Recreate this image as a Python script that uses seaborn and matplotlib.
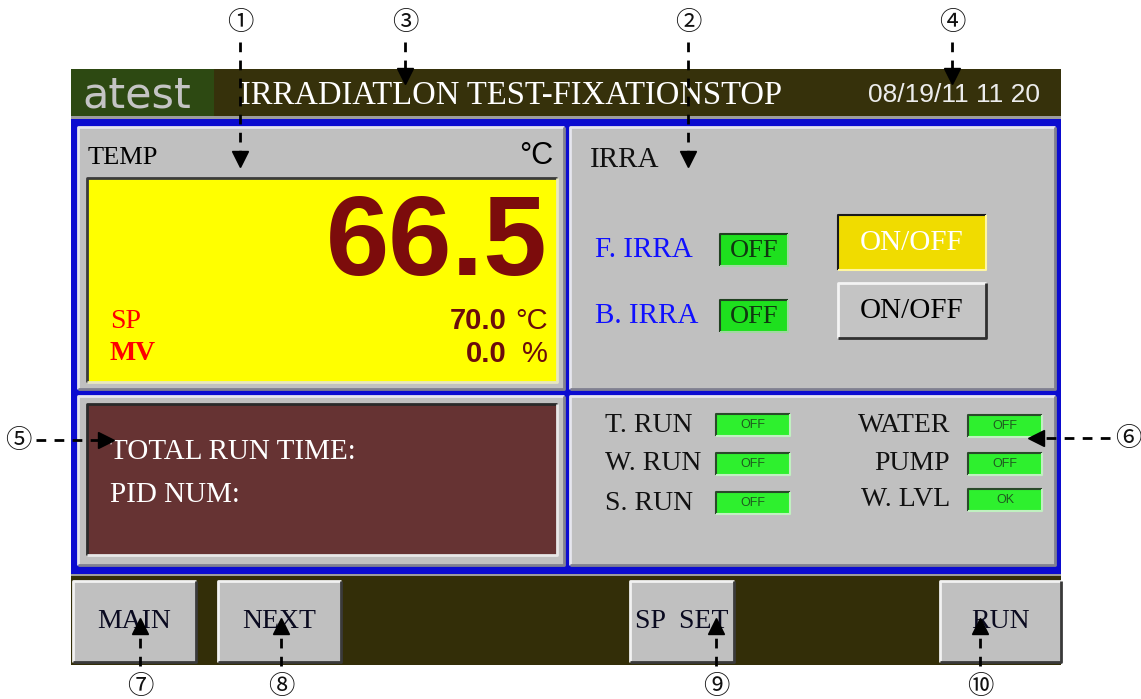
import matplotlib
matplotlib.use('Agg')
import matplotlib.pyplot as plt
import seaborn as sns
from matplotlib.patches import Rectangle

sns.set_theme(style='white')
plt.rcParams['font.family'] = ['Liberation Serif', 'DejaVu Sans']

# screen contents
title = 'IRRADIATLON TEST-FIXATIONSTOP'
date_str = '08/19/11 11 20'
pv_temp = 66.5
sp_temp = 70.0
mv_pct = 0.0
irra_labels = ['F. IRRA', 'B. IRRA']
irra_states = ['OFF', 'OFF']
run_labels = ['T. RUN', 'W. RUN', 'S. RUN']
run_states = ['OFF', 'OFF', 'OFF']
aux_labels = ['WATER', 'PUMP', 'W. LVL']
aux_states = ['OFF', 'OFF', 'OK']
info_lines = ['TOTAL RUN TIME:', 'PID NUM:']
button_labels = ['MAIN', 'NEXT', 'SP  SET', 'RUN']
callouts = ['①', '②', '③', '④', '⑤', '⑥', '⑦', '⑧', '⑨', '⑩']

fig = plt.figure(figsize=(11.41, 6.99), dpi=100)
ax = fig.add_axes([0, 0, 1, 1])
ax.set_xlim(0, 1141)
ax.set_ylim(699, 0)
ax.axis('off')


def box(x0, y0, x1, y1, fc, z=1):
    ax.add_patch(Rectangle((x0, y0), x1 - x0, y1 - y0, facecolor=fc, edgecolor='none', zorder=z))


def bevel(x0, y0, x1, y1, tl, br, lw=1.5, z=2):
    ax.plot([x0, x0, x1], [y1, y0, y0], color=tl, lw=lw, zorder=z, solid_capstyle='butt')
    ax.plot([x0, x1, x1], [y1, y1, y0], color=br, lw=lw, zorder=z, solid_capstyle='butt')


# header
box(71, 69, 1061, 117, '#36310b')
box(71, 69, 214, 117, '#2d4912')
ax.text(82, 96, 'atest', family='DejaVu Sans', fontsize=31, color='#c4c4c4',
        va='center', ha='left', zorder=3)
ax.text(240, 96, title, fontsize=23.5, color='white', va='center', ha='left', zorder=3)
ax.text(1040, 95, date_str, family='Liberation Sans', fontsize=19, color='#ececec',
        va='center', ha='right', zorder=3)
box(71, 116, 1061, 119, '#9c9c9c')

# blue body
box(71, 119, 1061, 574, '#0b0bd0')

# panels
panels = [(78, 127, 564, 389), (570, 127, 1055, 389), (78, 396, 564, 565), (570, 396, 1055, 565)]
for p in panels:
    box(*p, '#c0c0c0', z=1.5)
    bevel(*p, '#e6e6ee', '#808090', lw=2)

# temperature panel
ax.text(88, 158, 'TEMP', fontsize=19, color='black', va='center', ha='left', zorder=3)
ax.text(553, 156, '°C', family='Liberation Sans', fontsize=22, color='black', va='center', ha='right', zorder=3)
box(87, 178, 557, 382, '#ffff00', z=2)
bevel(87, 178, 557, 382, '#3a3a3a', '#e8e8c0', lw=2, z=2.5)
ax.text(548, 246, f'{pv_temp:.1f}', family='Liberation Sans', fontweight='bold', fontsize=82,
        color='#7c0c0c', va='center', ha='right', zorder=3)
ax.text(507, 321, f'{sp_temp:.1f}', family='Liberation Sans', fontweight='bold', fontsize=21,
        color='#6a0c0c', va='center', ha='right', zorder=3)
ax.text(548, 321, '°C', family='Liberation Sans', fontsize=21, color='#6a0c0c', va='center', ha='right', zorder=3)
ax.text(507, 354, f'{mv_pct:.1f}', family='Liberation Sans', fontweight='bold', fontsize=21,
        color='#6a0c0c', va='center', ha='right', zorder=3)
ax.text(548, 354, '%', family='Liberation Sans', fontsize=21, color='#6a0c0c', va='center', ha='right', zorder=3)
ax.text(110, 321, 'SP', fontsize=20, color='#ff0000', va='center', ha='left', zorder=3)
ax.text(110, 354, 'MV', fontsize=20, fontweight='bold', color='#ff0000', va='center', ha='left', zorder=3)

# irradiation panel
ax.text(590, 160, 'IRRA', fontsize=21, color='#111111', va='center', ha='left', zorder=3)
irra_y = [250, 316]
for lab, st, yc in zip(irra_labels, irra_states, irra_y):
    ax.text(595, yc, lab, fontsize=21, color='#1010ff', va='center', ha='left', zorder=3)
    box(720, yc - 16, 788, yc + 16, '#1ee01e', z=2)
    bevel(720, yc - 16, 788, yc + 16, '#204020', '#a0d8a0', lw=1.5, z=2.5)
    ax.text(754, yc + 1, st, fontsize=19, color='#103810', va='center', ha='center', zorder=3)

box(838, 215, 986, 270, '#f0dc00', z=2)
bevel(838, 215, 986, 270, '#1a1a1a', '#fff6a0', lw=1.5, z=2.5)
ax.text(912, 243, 'ON/OFF', fontsize=21, color='white', va='center', ha='center', zorder=3)
box(838, 283, 986, 338, '#c4c4c4', z=2)
bevel(838, 283, 986, 338, '#f4f4f4', '#303030', lw=2, z=2.5)
ax.text(912, 311, 'ON/OFF', fontsize=21, color='black', va='center', ha='center', zorder=3)

# info panel
box(87, 404, 557, 555, '#663333', z=2)
bevel(87, 404, 557, 555, '#2a2a2a', '#e8e8e8', lw=2, z=2.5)
for i, line in enumerate(info_lines):
    ax.text(110, 452 + 43 * i, line, fontsize=21, color='white', va='center', ha='left', zorder=3)

# status panel
run_y = [425, 464, 503]
for lab, st, yc in zip(run_labels, run_states, run_y):
    ax.text(605, yc, lab, fontsize=20, color='#111111', va='center', ha='left', zorder=3)
    box(716, yc - 11, 790, yc + 11, '#2ef02e', z=2)
    bevel(716, yc - 11, 790, yc + 11, '#2a4a2a', '#c0f0c0', lw=1.5, z=2.5)
    ax.text(753, yc, st, family='Liberation Sans', fontsize=9, color='#1f5a1f',
            va='center', ha='center', zorder=3)
aux_y = [426, 464, 500]
for lab, st, yc in zip(aux_labels, aux_states, aux_y):
    ax.text(950, yc, lab, fontsize=20, color='#111111', va='center', ha='right', zorder=3)
    box(968, yc - 11, 1042, yc + 11, '#2ef02e', z=2)
    bevel(968, yc - 11, 1042, yc + 11, '#2a4a2a', '#c0f0c0', lw=1.5, z=2.5)
    ax.text(1005, yc, st, family='Liberation Sans', fontsize=9, color='#1f5a1f',
            va='center', ha='center', zorder=3)

# footer with buttons
box(71, 574, 1061, 576, '#9c9c9c')
box(71, 576, 1061, 665, '#332e08')
button_x = [(73, 196), (218, 341), (630, 734), (940, 1061)]
for lab, (x0, x1) in zip(button_labels, button_x):
    box(x0, 581, x1, 662, '#c0c0c0', z=2)
    bevel(x0, 581, x1, 662, '#f2f2f2', '#3a3a3a', lw=2, z=2.5)
    ax.text((x0 + x1) / 2, 621, lab, fontsize=20, color='#0a0a20', va='center', ha='center', zorder=3)

# callouts: label position, arrow tip
callout_pos = [(240, 22), (688, 22), (405, 22), (952, 22), (18, 440), (1128, 438),
               (140, 686), (281, 686), (716, 686), (980, 686)]
callout_tip = [(240, 165), (688, 165), (405, 82), (952, 82), (112, 440), (1030, 438),
               (140, 620), (281, 620), (716, 620), (980, 620)]
cjk = ['Noto Sans CJK SC', 'DejaVu Sans']
for lab, (cx, cy), (tx, ty) in zip(callouts, callout_pos, callout_tip):
    ax.text(cx, cy, lab, family=cjk, fontsize=19, color='#111111', va='center', ha='center', zorder=5)
    if ty > cy + 5:       # pointing down
        start, mk, mpos = (cx, cy + 20), 'v', (tx, ty - 6)
    elif ty < cy - 5:     # pointing up
        start, mk, mpos = (cx, cy - 20), '^', (tx, ty + 6)
    elif tx > cx:         # pointing right
        start, mk, mpos = (cx + 18, cy), '>', (tx - 6, ty)
    else:                 # pointing left
        start, mk, mpos = (cx - 18, cy), '<', (tx + 6, ty)
    ax.plot([start[0], mpos[0]], [start[1], mpos[1]], color='black', lw=2,
            dashes=(3.5, 3), zorder=5)
    ax.plot([mpos[0]], [mpos[1]], marker=mk, ms=11, color='black', zorder=5)

fig.savefig('out.png', dpi=100, facecolor='white')
